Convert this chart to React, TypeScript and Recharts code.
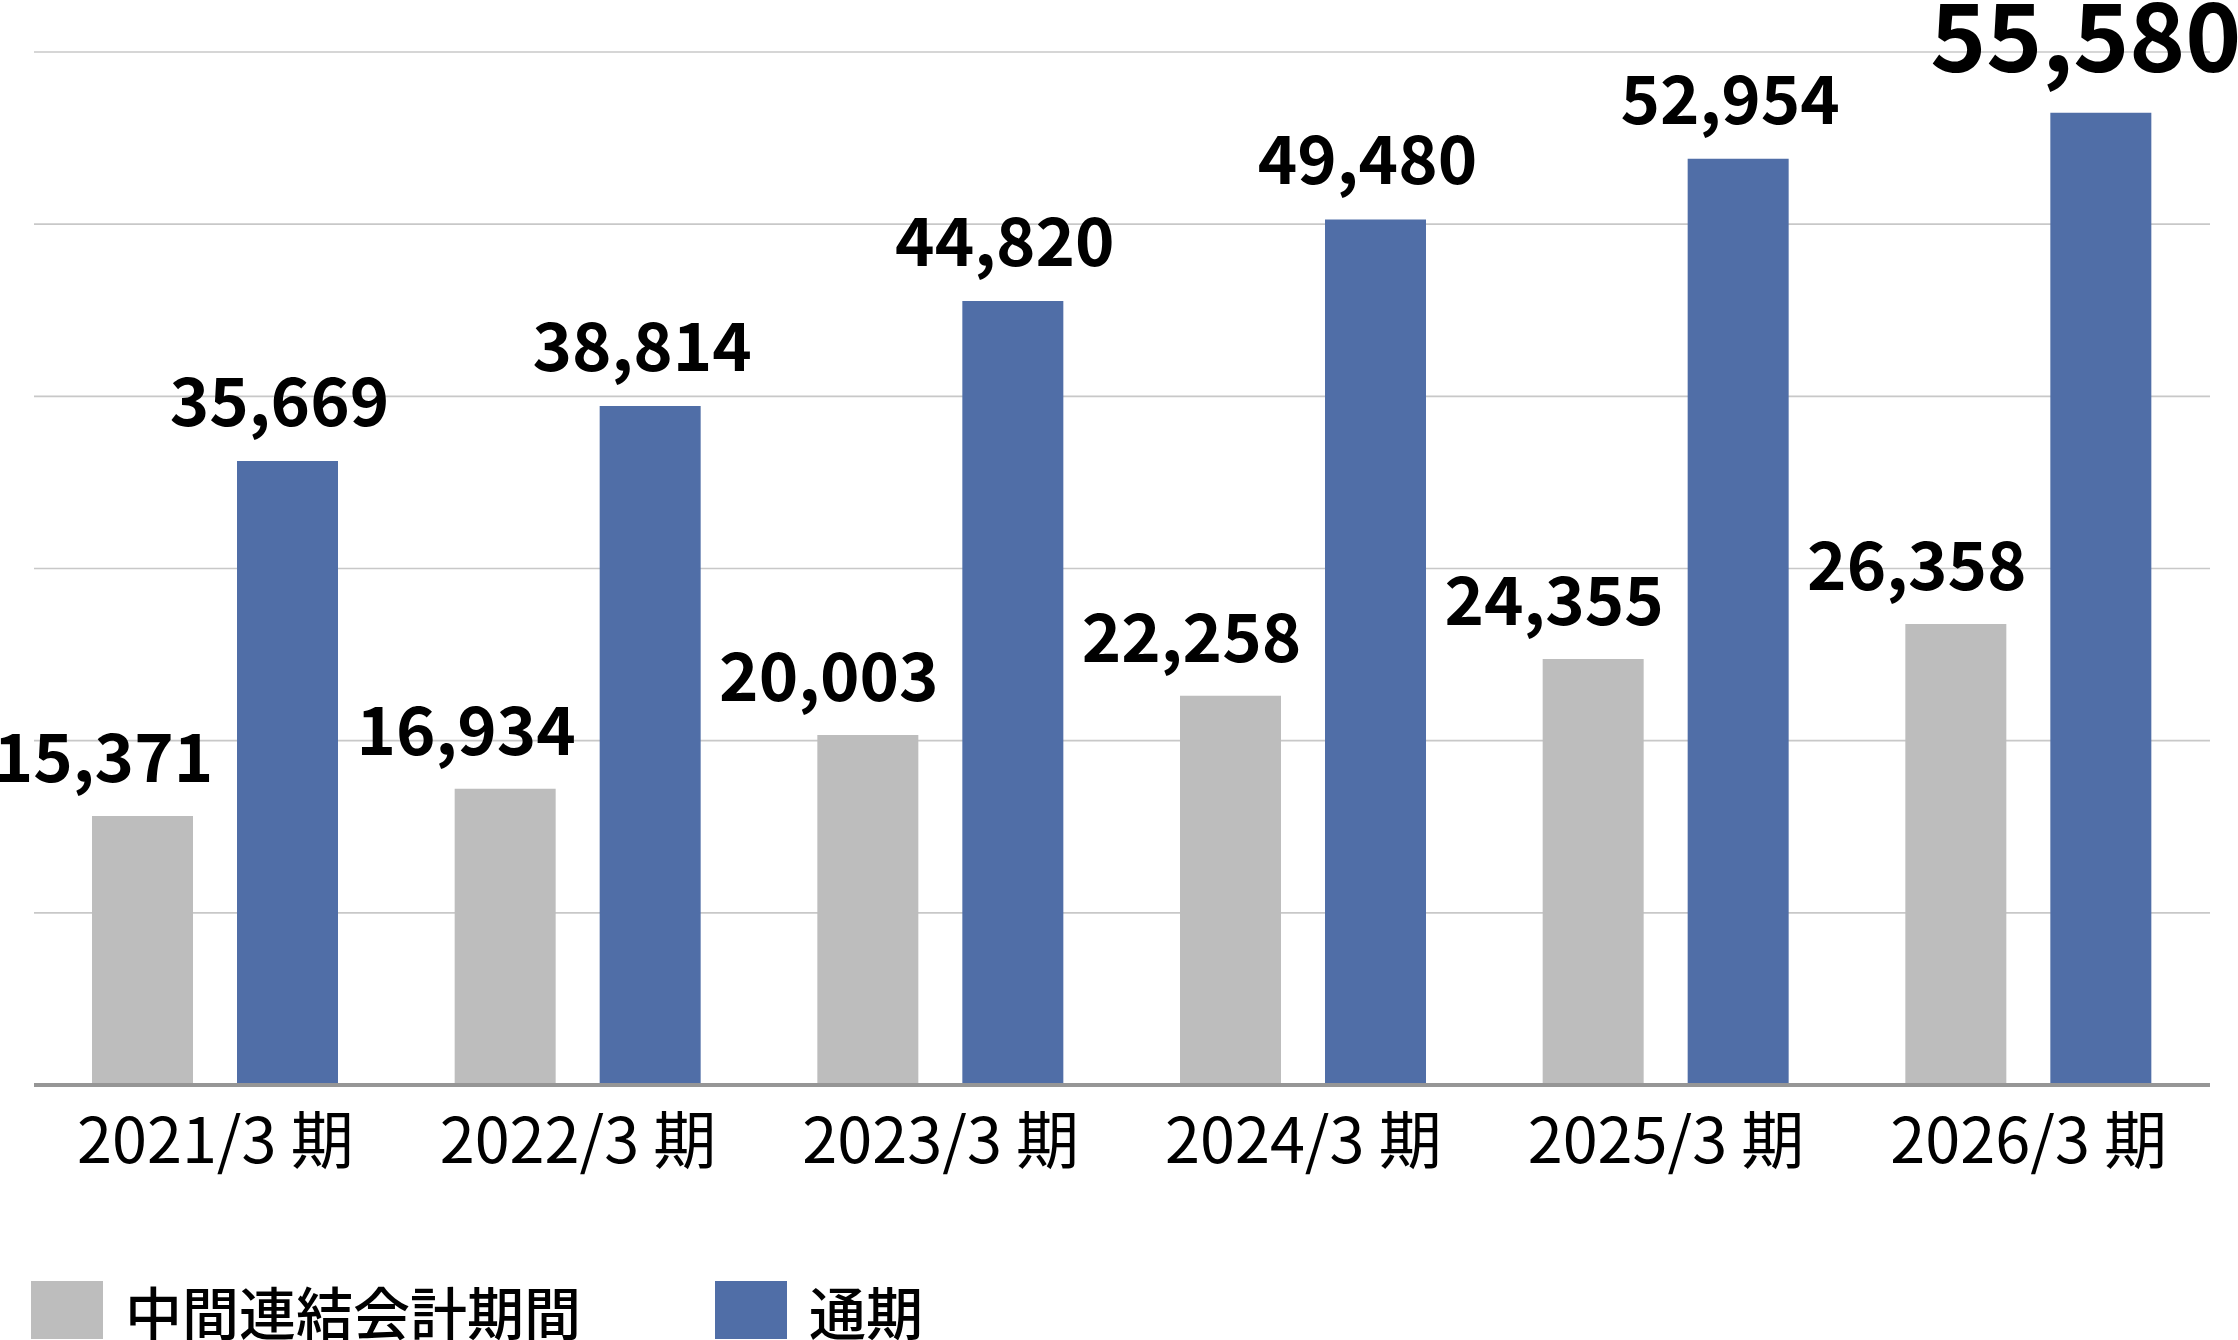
import { BarChart, Bar, XAxis, YAxis, CartesianGrid, LabelList } from "recharts";

const periods = ["2021/3 期", "2022/3 期", "2023/3 期", "2024/3 期", "2025/3 期", "2026/3 期"];
const interimValues = [15371, 16934, 20003, 22258, 24355, 26358];
const fullYearValues = [35669, 38814, 44820, 49480, 52954, 55580];
const seriesNames = ["中間連結会計期間", "通期"];
const seriesColors = ["#BDBDBD", "#506EA7"];
const gridTicks = [0, 9842, 19683, 29525, 39367, 49208, 59050];

const data = periods.map((period, i) => ({
  period,
  interim: interimValues[i],
  fullYear: fullYearValues[i],
}));

const FONT = '"Noto Sans CJK JP", "Noto Sans", sans-serif';

const fmt = (v: number) => v.toLocaleString("en-US");

function InterimLabel(props: any) {
  const { x, y, width, value } = props;
  return (
    <text
      x={x + width / 2 - 39}
      y={y - 34}
      textAnchor="middle"
      fontFamily={FONT}
      fontWeight={700}
      fontSize={67}
      fill="#000"
    >
      {fmt(value)}
    </text>
  );
}

function FullYearLabel(props: any) {
  const { x, y, width, value, index } = props;
  const last = index === fullYearValues.length - 1;
  return (
    <text
      x={x + width / 2 - (last ? 15 : 8)}
      y={y - (last ? 41 : 35)}
      textAnchor="middle"
      fontFamily={FONT}
      fontWeight={700}
      fontSize={last ? 95 : 67}
      fill="#000"
    >
      {fmt(value)}
    </text>
  );
}

function PeriodTick(props: any) {
  const { x, y, payload } = props;
  return (
    <text x={x} y={y + 76} textAnchor="middle" fontFamily={FONT} fontSize={63} fill="#000">
      {payload.value}
    </text>
  );
}

export default function App() {
  return (
    <div style={{ position: "absolute", left: 0, top: 0, width: 2238, height: 1340, background: "#fff" }}>
      <BarChart
        width={2238}
        height={1340}
        data={data}
        barSize={101}
        barGap={44}
        margin={{ top: 52, right: 28, left: 34, bottom: 155 }}
      >
        <CartesianGrid vertical={false} stroke="#C8C8C8" strokeWidth={1.7} />
        <YAxis hide domain={[0, 59050]} ticks={gridTicks} />
        <XAxis
          dataKey="period"
          height={100}
          tickLine={false}
          tickSize={0}
          axisLine={{ stroke: "#969696", strokeWidth: 4 }}
          tick={<PeriodTick />}
          interval={0}
        />
        <Bar dataKey="interim" name={seriesNames[0]} fill={seriesColors[0]} isAnimationActive={false}>
          <LabelList dataKey="interim" content={<InterimLabel />} />
        </Bar>
        <Bar dataKey="fullYear" name={seriesNames[1]} fill={seriesColors[1]} isAnimationActive={false}>
          <LabelList dataKey="fullYear" content={<FullYearLabel />} />
        </Bar>
      </BarChart>
      {/* legend */}
      <div style={{ position: "absolute", left: 31, top: 1281, display: "flex", alignItems: "center", fontFamily: FONT, fontSize: 57, fontWeight: 500, color: "#000", lineHeight: "52px" }}>
        <div style={{ width: 72, height: 58, background: seriesColors[0] }} />
        <span style={{ marginLeft: 22 }}>{seriesNames[0]}</span>
        <div style={{ width: 72, height: 58, background: seriesColors[1], marginLeft: 134 }} />
        <span style={{ marginLeft: 22 }}>{seriesNames[1]}</span>
      </div>
    </div>
  );
}
